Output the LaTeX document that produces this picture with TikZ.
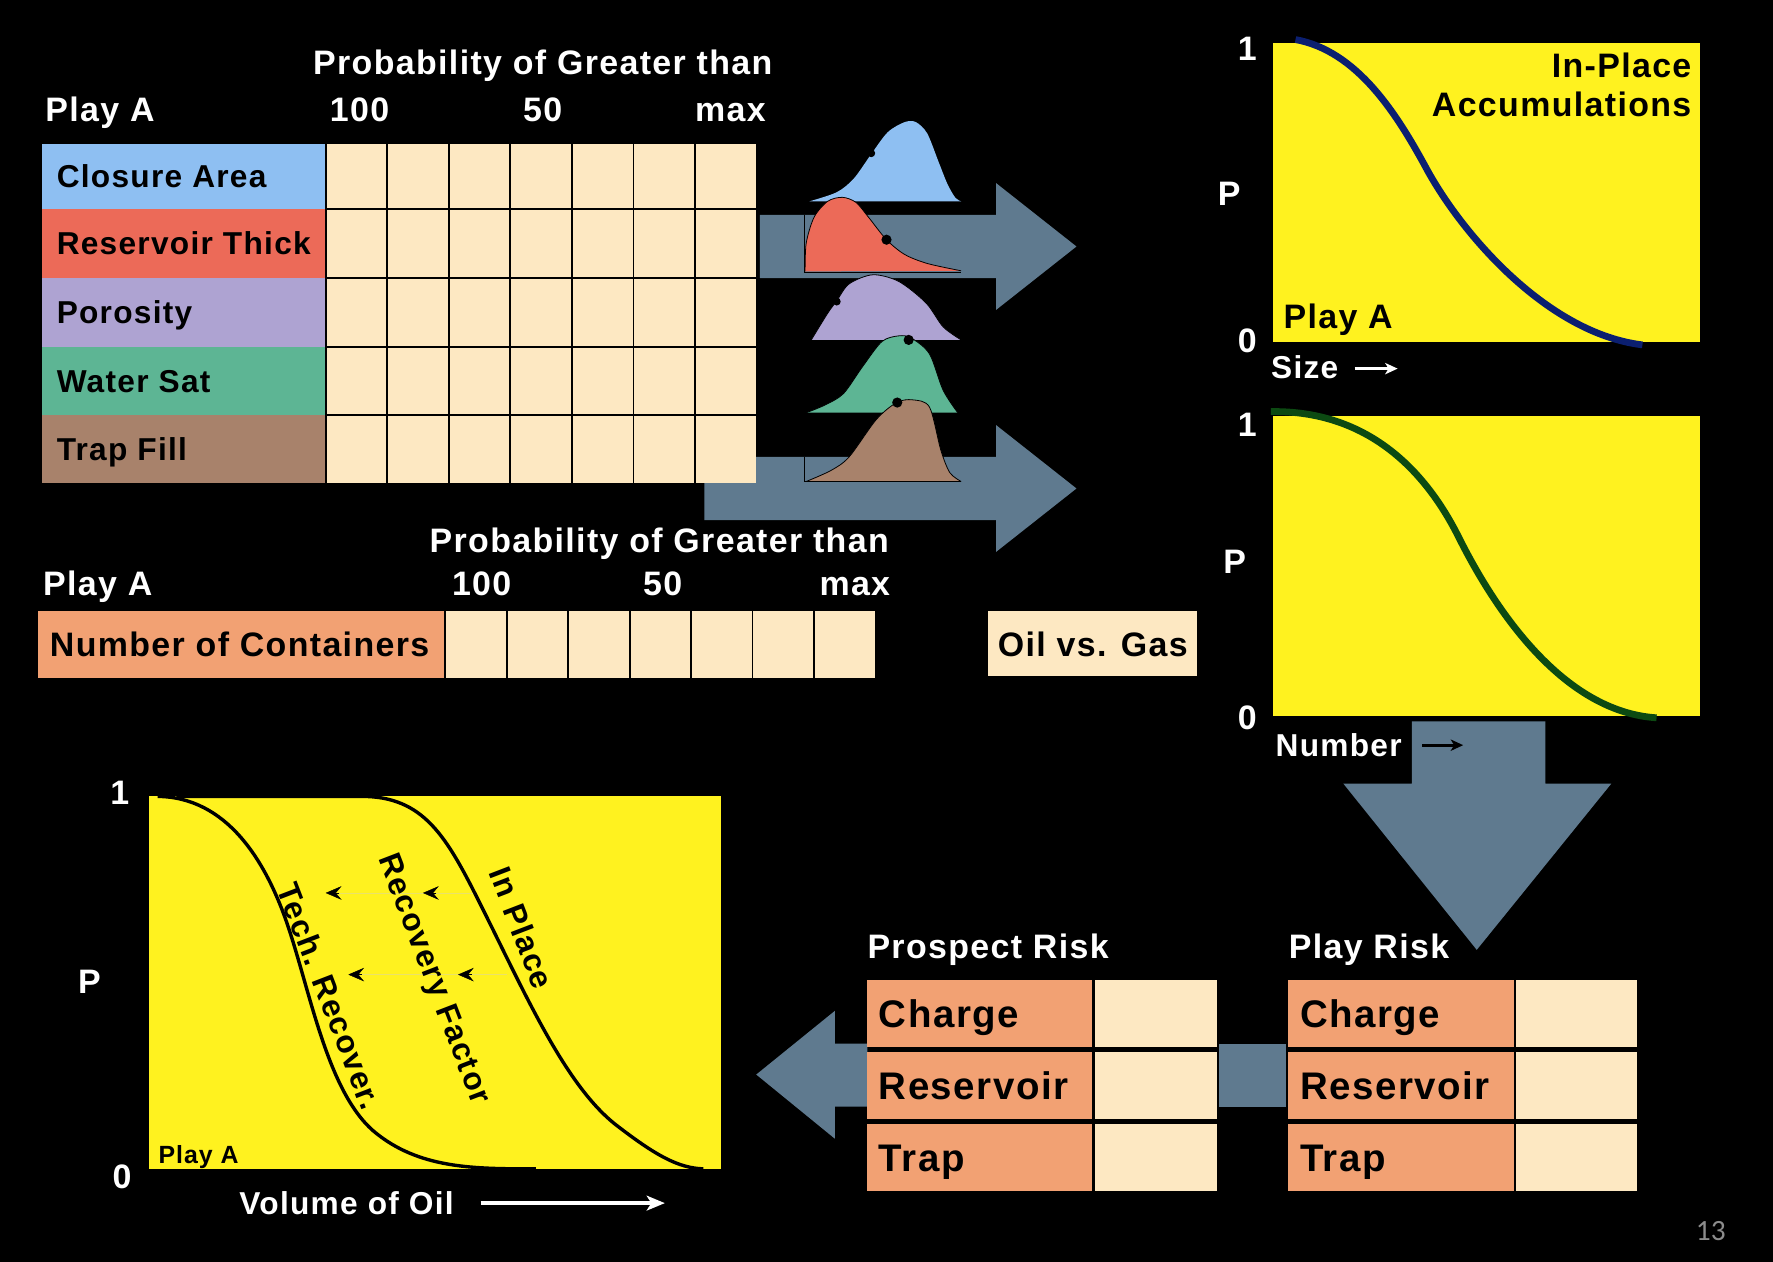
\documentclass[tikz,border=0pt]{standalone}
\usepackage{fontspec}
\setmainfont{Liberation Sans}[LetterSpace=4]
\newfontfamily\pagefont{Carlito}
\usetikzlibrary{arrows.meta}
\newcommand{\myfs}[1]{\fontsize{#1}{#1}\selectfont}
\definecolor{cBlue}{HTML}{8EBFF2}
\definecolor{cRed}{HTML}{EC6A58}
\definecolor{cPurple}{HTML}{AEA3D2}
\definecolor{cGreen}{HTML}{5DB594}
\definecolor{cBrown}{HTML}{A8826B}
\definecolor{cCream}{HTML}{FDE8C2}
\definecolor{cOrange}{HTML}{F2A173}
\definecolor{cYellow}{HTML}{FFF21F}
\definecolor{cArrow}{HTML}{5F7A8F}
\definecolor{cNavy}{HTML}{0B1F70}
\definecolor{cDkGreen}{HTML}{0C4A12}
\definecolor{cFaint}{HTML}{EAE26A}
\tikzset{
  tw/.style={font=\bfseries\myfs{30}, inner sep=0pt, text height=21.5pt, text depth=0pt, text=white},
  tws/.style={font=\bfseries\myfs{28}, inner sep=0pt, text height=20pt, text depth=0pt, text=white},
  tb/.style={font=\bfseries\myfs{28}, inner sep=0pt, text height=20pt, text depth=0pt, text=black},
  tbm/.style={font=\bfseries\myfs{30}, inner sep=0pt, text height=21.5pt, text depth=0pt, text=black},
  tbig/.style={font=\bfseries\myfs{34}, inner sep=0pt, text height=24.3pt, text depth=0pt, text=black},
  trot/.style={font=\bfseries\myfs{28}, inner sep=0pt, text=black, rotate=-69},
  gridline/.style={black, line width=1.5pt},
  bigarrow/.style={fill=cArrow},
  distline/.style={black, line width=0.7pt},
  faintline/.style={cFaint, line width=0.6pt},
  chev/.style={black, line width=0.4pt, -{Stealth[length=14pt,width=12pt,inset=5pt]}},
}
\begin{document}
\begin{tikzpicture}[x=1pt,y=-1pt]
\fill[black] (0,0) rectangle (1568,1116);
\useasboundingbox (0,0) rectangle (1568,1116);

% ---- big arrows behind the top table
\fill[bigarrow] (672,190) -- (881,190) -- (881,162) -- (952,218) -- (881,274) -- (881,246) -- (672,246) -- cycle;
\fill[bigarrow] (623,404) -- (881,404) -- (881,376) -- (952,432) -- (881,488) -- (881,460) -- (623,460) -- cycle;

% ---- top table
\node[tw] (h1) at (480,55) {Probability of Greater than};
\node[tw, anchor=west] (pa1) at (40,97) {Play A};
\node[tw] (p100a) at (318,97) {100};
\node[tw] (p50a) at (480,97) {50};
\node[tw] (pmaxa) at (646,97) {max};
\foreach \y/\h/\c/\t in {127/58/cBlue/Closure Area, 185/61/cRed/Reservoir Thick, 246/61/cPurple/Porosity, 307/60/cGreen/Water Sat, 367/60/cBrown/Trap Fill}{
  \fill[\c] (37,\y) rectangle (288,\y+\h);
  \node[tb, anchor=west] (lab\y) at (50,\y+\h/2) {\t};
}
\fill[cCream] (288,127) rectangle (669,427);
\foreach \k in {0,...,6}{ \draw[gridline] (288+54.43*\k,127) -- (288+54.43*\k,427); }
\foreach \y in {185,246,307,367}{ \draw[gridline] (288,\y) -- (669,\y); }

% ---- distributions
\fill[cBlue] plot[smooth] coordinates {(716,178) (740,170) (755,158) (770,137) (785,117) (800,108) (810,108) (820,118) (830,143) (838,163) (845,175) (850,178)} -- cycle;
\fill[black] (770.5,135.5) circle (3.5pt);

\fill[cRed] plot[smooth] coordinates {(712,240) (713,215) (720,192) (732,178) (745,174.5) (757,179) (768,192) (784,212) (800,225) (820,233) (850,239.5)} -- cycle;
\draw[distline] plot[smooth] coordinates {(712,240) (713,215) (720,192) (732,178) (745,174.5) (757,179) (768,192) (784,212) (800,225) (820,233) (850,239.5)};
\draw[distline] (711.6,190) -- (711.6,240.5) -- (850,240.5);
\fill[black] (784,212) circle (4.5pt);

\fill[cPurple] plot[smooth] coordinates {(717.5,300.6) (732,277) (740,266) (751,251) (772,243) (795,249) (819,268) (834,289) (850,300.6)} -- cycle;
\draw[distline] plot[smooth] coordinates {(717.5,300.6) (732,277) (740,266) (751,251) (772,243) (795,249) (819,268) (834,289) (850,300.6)};
\fill[black] (740,266.7) circle (3.5pt);

\fill[cGreen] plot[smooth] coordinates {(713,365) (730,358) (746,348) (763,324) (780,302) (795,297) (806,299) (822,313) (834,345) (847,365)} -- cycle;
\draw[distline] plot[smooth] coordinates {(713,365) (730,358) (746,348) (763,324) (780,302) (795,297) (806,299) (822,313) (834,345) (847,365)};
\fill[black] (803.6,300.6) circle (4.5pt);

\fill[cBrown] plot[smooth] coordinates {(713,425.8) (735,416) (751,404) (775,371) (793,356) (807,353.6) (822,360) (832,398) (840,418) (850,425.8)} -- cycle;
\draw[distline] plot[smooth] coordinates {(713,425.8) (735,416) (751,404) (775,371) (793,356) (807,353.6) (822,360) (832,398) (840,418) (850,425.8)};
\draw[distline] (711.6,404) -- (711.6,426) -- (850,426);
\fill[black] (793.5,356) circle (4.5pt);

% ---- second table
\node[tw] (h2) at (583,478) {Probability of Greater than};
\node[tw, anchor=west] (pa2) at (38,516) {Play A};
\node[tw] (p100b) at (426,516) {100};
\node[tw] (p50b) at (586,516) {50};
\node[tw] (pmaxb) at (756,516) {max};
\fill[cOrange] (34,540) rectangle (393,600);
\node[tbm, anchor=west] (noc) at (44,570) {Number of Containers};
\fill[cCream] (394,540) rectangle (774,600);
\foreach \k in {0,...,6}{ \draw[gridline] (394+54.3*\k,540) -- (394+54.3*\k,600); }
\fill[cCream] (874,540) rectangle (1059,598);
\node[tbm] (ovg) at (966.5,570) {Oil vs. Gas};

% ---- in-place chart
\fill[cYellow] (1125.5,37.7) rectangle (1503.6,302.6);
\draw[cNavy, line width=6pt] (1145.7,35) .. controls (1200,45) and (1235,100) .. (1262,150) .. controls (1295,210) and (1370,295) .. (1452.5,305);
\node[tw] (c1one) at (1103,43) {1};
\node[tw] (c1zero) at (1103,301) {0};
\node[tw] (c1p) at (1087,171) {P};
\node[tbm, anchor=east] (ipl) at (1496,57.5) {In-Place};
\node[tbm, anchor=east] (acc) at (1496,92) {Accumulations};
\node[tbm, anchor=west] (c1play) at (1135,280) {Play A};
\node[tws, anchor=west] (size) at (1124,325) {Size};
\coordinate (sz1) at (1198,326);
\coordinate (sz2) at (1236,326);
\draw[white, line width=2.5pt, -{Stealth[length=11pt,width=10pt,inset=3pt]}] (sz1) -- (sz2);

% ---- number chart
\fill[cYellow] (1125.5,368.3) rectangle (1503.6,633.5);
\draw[cDkGreen, line width=6pt] (1124,364) .. controls (1200,363) and (1255,405) .. (1290,475) .. controls (1330,555) and (1390,630) .. (1465,634.8);
\node[tw] (c2one) at (1103,375) {1};
\node[tw] (c2zero) at (1103,634) {0};
\node[tw] (c2p) at (1092,496) {P};

% ---- down arrow
\fill[bigarrow] (1248.6,638) -- (1366.7,638) -- (1366.7,693) -- (1425,693) -- (1306,840) -- (1188,693) -- (1248.6,693) -- cycle;
\node[tws, anchor=west] (num) at (1128,659) {Number};
\coordinate (nm1) at (1258,659);
\coordinate (nm2) at (1294,659);
\draw[black, line width=2.5pt, -{Stealth[length=11pt,width=10pt,inset=3pt]}] (nm1) -- (nm2);

% ---- risk tables
\fill[bigarrow] (767,923) -- (738.3,923) -- (738.3,894) -- (668.8,950.3) -- (738.3,1007) -- (738.3,978.7) -- (767,978.7) -- cycle;
\fill[bigarrow] (1078,923) rectangle (1137,978.7);
\node[tw, anchor=west] (prh) at (767,837) {Prospect Risk};
\node[tw, anchor=west] (plh) at (1139.6,837) {Play Risk};
\foreach \ya/\yb/\t in {867/925.8/Charge, 930/990/Reservoir, 994/1053.5/Trap}{
  \fill[cOrange] (767,\ya) rectangle (966,\yb);
  \fill[cCream] (968,\ya) rectangle (1076,\yb);
  \node[tbig, anchor=west] (pr\t) at (777,{(\ya+\yb)/2}) {\t};
  \fill[cOrange] (1139.5,\ya) rectangle (1338.6,\yb);
  \fill[cCream] (1340.6,\ya) rectangle (1448,\yb);
  \node[tbig, anchor=west] (pl\t) at (1149.5,{(\ya+\yb)/2}) {\t};
}

% ---- volume chart
\fill[cYellow] (132,704.3) rectangle (638,1033.7);
\draw[black, line width=3pt] (156,704.3) -- (320,704.3) .. controls (375,704.3) and (395,740) .. (425,800) .. controls (465,880) and (500,960) .. (545,995) .. controls (580,1022) and (600,1033) .. (622,1033.7);
\draw[black, line width=3pt] (139.5,704.3) .. controls (200,705) and (235,760) .. (255,820) .. controls (275,880) and (290,965) .. (330,1000) .. controls (370,1034) and (420,1033.7) .. (474,1033.7);
\draw[faintline] (418.6,789.7) -- (300,789.7);
\draw[faintline] (448,861.9) -- (320,861.9);
\coordinate (a1s) at (300,789.7); \coordinate (a1e) at (288,789.7);
\coordinate (a2s) at (386,789.7); \coordinate (a2e) at (374,789.7);
\coordinate (a3s) at (320,861.9); \coordinate (a3e) at (308,861.9);
\coordinate (a4s) at (417,861.9); \coordinate (a4e) at (405,861.9);
\draw[chev] (a1s) -- (a1e);
\draw[chev] (a2s) -- (a2e);
\draw[chev] (a3s) -- (a3e);
\draw[chev] (a4s) -- (a4e);
\node[trot] (inpl) at (461.6,820.6) {In Place};
\node[trot] (recf) at (382.6,866.3) {Recovery Factor};
\node[trot] (tech) at (291.8,881) {Tech. Recover.};
\node[tw] (c3one) at (106,701) {1};
\node[tw] (c3zero) at (108,1040) {0};
\node[tw] (c3p) at (79,868) {P};
\node[font=\bfseries\myfs{22}, inner sep=0pt, text height=15.8pt, text depth=0pt, anchor=west] (c3play) at (140,1021) {Play A};
\node[tws, anchor=west] (vol) at (211.5,1064) {Volume of Oil};
\coordinate (v1) at (425,1064);
\coordinate (v2) at (588,1064);
\draw[white, line width=3pt, -{Stealth[length=16pt,width=13pt,inset=4pt]}] (v1) -- (v2);

% ---- page number
\node[font=\pagefont\myfs{26}, text=gray!90, inner sep=0pt] (pg) at (1513,1089) {13};
\end{tikzpicture}
\end{document}
